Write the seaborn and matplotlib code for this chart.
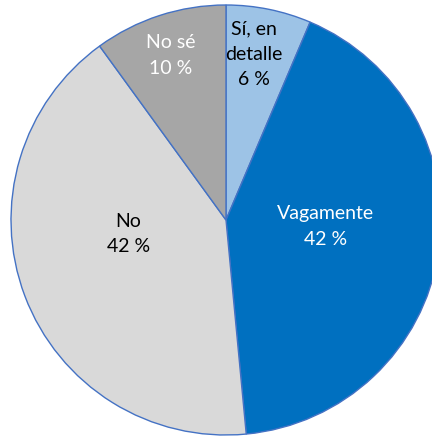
import matplotlib
matplotlib.use("Agg")
import matplotlib.pyplot as plt
import seaborn as sns

sns.set_theme(style="white")
plt.rcParams['font.family'] = ['Lato', 'DejaVu Sans']

# data (shares; labels show rounded values)
categories = ['Sí, en\ndetalle', 'Vagamente', 'No', 'No sé']
values = [6.4, 42.1, 41.5, 10.0]
colors = ['#9DC3E6', '#0070C0', '#D9D9D9', '#A6A6A6']
text_colors = ['black', 'white', 'black', 'white']

fig = plt.figure(figsize=(4.32, 4.37), dpi=100)
ax = fig.add_axes([0, 0, 1, 1])

wedges, _ = ax.pie(values, startangle=90, counterclock=False, colors=colors,
                   wedgeprops=dict(edgecolor='#4472C4', linewidth=1.0))

# label positions (data coords, pie radius = 1)
label_pos = [(0.13, 0.77), (0.463, -0.03), (-0.453, -0.065), (-0.256, 0.765)]
for cat, val, (x, y), tc in zip(categories, values, label_pos, text_colors):
    ax.text(x, y, f"{cat}\n{round(val):.0f} %", ha='center', va='center', color=tc,
            fontsize=14, linespacing=1.6)

ax.set_xlim(-226 / 215, 206 / 215)
ax.set_ylim(-217 / 215, 220 / 215)
ax.set_aspect('auto')
ax.axis('off')

fig.savefig("out.png", dpi=100, facecolor='white')
